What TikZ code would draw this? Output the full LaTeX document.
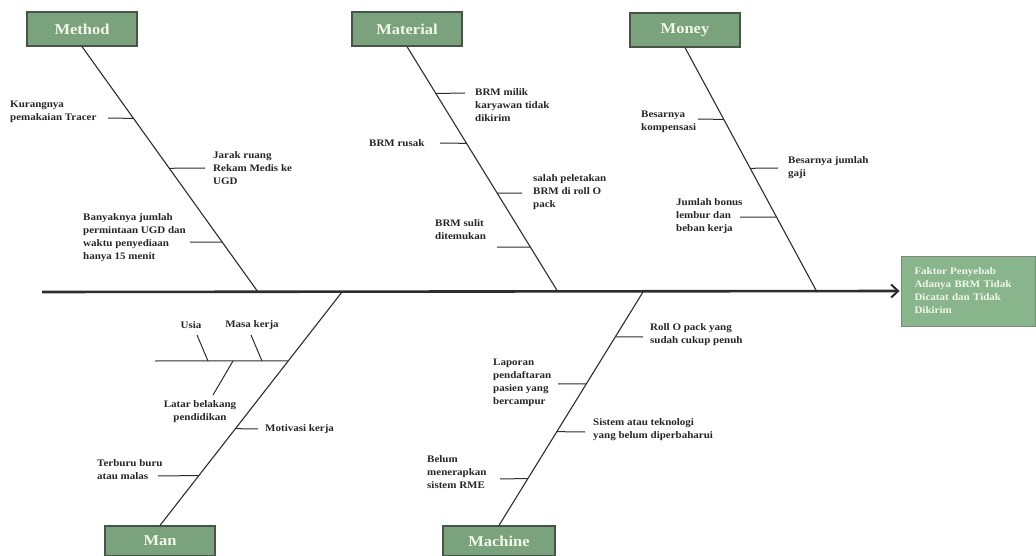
\documentclass[tikz,border=0pt]{standalone}
\usepackage{fontspec}
\setmainfont[FakeStretch=1.1]{Liberation Serif}
\usetikzlibrary{arrows.meta,calc}
\definecolor{boxgreen}{RGB}{122,163,125}
\definecolor{headgreen}{RGB}{136,181,140}
\definecolor{boxedge}{RGB}{72,84,72}
\definecolor{bone}{RGB}{45,45,45}
\definecolor{boxtext}{RGB}{242,247,234}
\begin{document}
\begin{tikzpicture}[x=1pt,y=-1pt,
  catbox/.style={draw=boxedge, line width=1.2pt, fill=boxgreen, minimum width=110pt, minimum height=34pt, inner sep=0pt, text=boxtext, font=\bfseries\fontsize{15}{17}\selectfont},
  lbl/.style={inner sep=0pt, align=left, font=\bfseries\fontsize{10}{13}\selectfont, text=black!85},
  bonel/.style={draw=bone, line width=1.1pt},
  twig/.style={draw=bone, line width=1pt},
  headbox/.style={draw=boxedge!70, line width=0.8pt, fill=headgreen, text width=108pt, inner xsep=13pt, minimum height=70pt, align=left, text=boxtext, font=\bfseries\fontsize{10}{13}\selectfont},
]
\useasboundingbox (0,0) rectangle (1036,556);

% category boxes
\node[catbox] (Method) at (82,29) {Method};
\node[catbox] (Material) at (407,29) {Material};
\node[catbox] (Money) at (685,30) {Money};
\node[catbox, minimum height=30pt] (Man) at (160,541) {Man};
\node[catbox, minimum height=30pt, minimum width=112pt] (Machine) at (499,541) {Machine};
\node[headbox] (Head) at (968.5,291) {Faktor Penyebab\\Adanya BRM Tidak\\Dicatat dan Tidak\\Dikirim};

% spine
\coordinate (tail) at (42,292);
\coordinate (sMe) at (258,292);
\coordinate (sMa) at (558,292);
\coordinate (sMo) at (817,292);
\coordinate (sMn) at (342,292);
\coordinate (sMc) at (643,292);
\draw[line width=2.6pt, bone, -{Straight Barb[length=7pt,width=13pt,line width=2pt]}, shorten >=1.5pt] (tail) -- (Head.west);

% main bones
\draw[bonel] (Method.south) -- coordinate[pos=0.2927] (me1) coordinate[pos=0.4959] (me2) coordinate[pos=0.7967] (me3) (sMe);
\draw[bonel] (Material.south) -- coordinate[pos=0.1911] (ma1) coordinate[pos=0.3943] (ma2) coordinate[pos=0.5976] (ma3) coordinate[pos=0.8171] (ma4) (sMa);
\draw[bonel] (Money.south) -- coordinate[pos=0.2939] (mo1) coordinate[pos=0.4939] (mo2) coordinate[pos=0.6939] (mo3) (sMo);
\draw[bonel] (Man.north) -- coordinate[pos=0.7051] (mn1) coordinate[pos=0.4145] (mn2) coordinate[pos=0.2137] (mn3) (sMn);
\draw[bonel] (Machine.north) -- coordinate[pos=0.8077] (mc1) coordinate[pos=0.6068] (mc2) coordinate[pos=0.4017] (mc3) coordinate[pos=0.2009] (mc4) (sMc);

% Method causes
\coordinate (te1) at (108,118);
\coordinate (te2) at (205,168);
\coordinate (te3) at (190,242);
\draw[twig] (te1) -- (me1);
\draw[twig] (te2) -- (me2);
\draw[twig] (te3) -- (me3);
\node[lbl, anchor=west] (le1) at (10,112) {Kurangnya\\pemakaian Tracer};
\node[lbl, anchor=west] (le2) at (213,168) {Jarak ruang\\Rekam Medis ke\\UGD};
\node[lbl, anchor=west] (le3) at (83,238) {Banyaknya jumlah\\permintaan UGD dan\\waktu penyediaan\\hanya 15 menit};

% Material causes
\coordinate (ta1) at (465,93);
\coordinate (ta2) at (440,143);
\coordinate (ta3) at (522,193);
\coordinate (ta4) at (497,247);
\draw[twig] (ta1) -- (ma1);
\draw[twig] (ta2) -- (ma2);
\draw[twig] (ta3) -- (ma3);
\draw[twig] (ta4) -- (ma4);
\node[lbl, anchor=west] (la1) at (475,105) {BRM milik\\karyawan tidak\\dikirim};
\node[lbl, anchor=west] (la2) at (369,143) {BRM rusak};
\node[lbl, anchor=west] (la3) at (533,192) {salah peletakan\\BRM di roll O\\pack};
\node[lbl, anchor=west] (la4) at (435,230) {BRM sulit\\ditemukan};

% Money causes
\coordinate (to1) at (698,119);
\coordinate (to2) at (778,168);
\coordinate (to3) at (740,217);
\draw[twig] (to1) -- (mo1);
\draw[twig] (to2) -- (mo2);
\draw[twig] (to3) -- (mo3);
\node[lbl, anchor=west] (lo1) at (641,122) {Besarnya\\kompensasi};
\node[lbl, anchor=west] (lo2) at (788,168) {Besarnya jumlah\\gaji};
\node[lbl, anchor=west] (lo3) at (676,216) {Jumlah bonus\\lembur dan\\beban kerja};

% Man causes
\coordinate (tn1) at (155,361);
\coordinate (tn2) at (258,429);
\coordinate (tn3) at (158,476);
\coordinate (uA) at (197,335);
\coordinate (uB) at (208,361);
\coordinate (kA) at (251,335);
\coordinate (kB) at (262,361);
\coordinate (pA) at (213,395);
\coordinate (pB) at (233,361);
\draw[twig] (tn1) -- (mn1);
\draw[twig] (tn2) -- (mn2);
\draw[twig] (tn3) -- (mn3);
\draw[twig] (uA) -- (uB);
\draw[twig] (kA) -- (kB);
\draw[twig] (pA) -- (pB);
\node[lbl] (ln1) at (191,325) {Usia};
\node[lbl] (ln2) at (252,325) {Masa kerja};
\node[lbl, align=center] (ln3) at (200,412) {Latar belakang\\pendidikan};
\node[lbl, anchor=west] (ln4) at (265,429) {Motivasi kerja};
\node[lbl, anchor=west] (ln5) at (97,470) {Terburu buru\\atau malas};

% Machine causes
\coordinate (tc1) at (643,337);
\coordinate (tc2) at (558,384);
\coordinate (tc3) at (585,432);
\coordinate (tc4) at (500,479);
\draw[twig] (tc1) -- (mc1);
\draw[twig] (tc2) -- (mc2);
\draw[twig] (tc3) -- (mc3);
\draw[twig] (tc4) -- (mc4);
\node[lbl, anchor=west] (lc1) at (650,335) {Roll O pack yang\\sudah cukup penuh};
\node[lbl, anchor=west] (lc2) at (493,383) {Laporan\\pendaftaran\\pasien yang\\bercampur};
\node[lbl, anchor=west] (lc3) at (593,430) {Sistem atau teknologi\\yang belum diperbaharui};
\node[lbl, anchor=west] (lc4) at (427,472) {Belum\\menerapkan\\sistem RME};
\end{tikzpicture}
\end{document}
